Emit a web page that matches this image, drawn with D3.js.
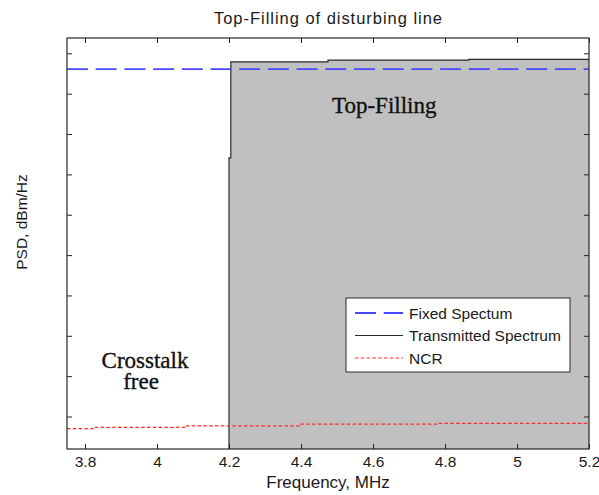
<!DOCTYPE html>
<html>
<head>
<meta charset="utf-8">
<script src="https://cdn.jsdelivr.net/npm/d3@7/dist/d3.min.js"></script>
<style>
  html, body { margin: 0; padding: 0; background: #fff; }
  svg { display: block; }
  .sans { font-family: "Liberation Sans", Arial, sans-serif; fill: #1a1a1a; }
  .serif { font-family: "Liberation Serif", "Times New Roman", serif; fill: #111; stroke: #111; stroke-width: 0.35px; }
</style>
</head>
<body>
<svg id="chart" width="599" height="495"></svg>
<script>
// Frequency axis (MHz)
const freqDomain = [3.75, 5.2];
const freqTicks = [3.8, 4.0, 4.2, 4.4, 4.6, 4.8, 5.0, 5.2];
const freqTickLabels = ["3.8", "4", "4.2", "4.4", "4.6", "4.8", "5", "5.2"];

// PSD axis (dBm/Hz) — ticks are drawn without labels
const psdDomain = [-148.05, -46.2];
const psdTicks = [-140, -130, -120, -110, -100, -90, -80, -70, -60, -50];

// Fixed spectrum mask (flat)
const fixedFreq = [3.75, 5.2];
const fixedPsd = [-53.9, -53.9];

// Transmitted spectrum (step-after segments, starts at 4.2 MHz)
const txFreq = [4.2, 4.205, 4.475, 4.866, 5.2];
const txPsd = [-75.9, -52.1, -51.7, -51.5, -51.5];

// NCR noise floor (step-after segments)
const ncrFreq = [3.75, 3.822, 4.08, 4.397, 4.78, 5.2];
const ncrPsd = [-143.0, -142.7, -142.3, -141.9, -141.7, -141.7];

const legendLabels = ["Fixed Spectum", "Transmitted Spectrum", "NCR"];

const svg = d3.select("#chart");
const plot = { left: 67, right: 589, top: 38, bottom: 449 };

const x = d3.scaleLinear().domain(freqDomain).range([plot.left, plot.right]);
const y = d3.scaleLinear().domain(psdDomain).range([plot.bottom, plot.top]);

svg.append("defs").append("clipPath").attr("id", "plotClip")
  .append("rect")
  .attr("x", plot.left).attr("y", plot.top)
  .attr("width", plot.right - plot.left).attr("height", plot.bottom - plot.top);

const g = svg.append("g").attr("clip-path", "url(#plotClip)");

const zip = (xs, ys) => xs.map((f, i) => ({ f, v: ys[i] }));
const txData = zip(txFreq, txPsd);

// Grey "top-filling" region under the transmitted spectrum
g.append("path")
  .datum(txData)
  .attr("fill", "#c0c0c0")
  .attr("d", d3.area().curve(d3.curveStepAfter)
    .x(d => x(d.f)).y0(y(psdDomain[0])).y1(d => y(d.v)));

// Transmitted spectrum outline, rising from the bottom of the axis
const txLine = [{ f: txFreq[0], v: psdDomain[0] }].concat(txData);
g.append("path")
  .datum(txLine)
  .attr("fill", "none")
  .attr("stroke", "#2a2a2a")
  .attr("stroke-width", 1.2)
  .attr("d", d3.line().curve(d3.curveStepAfter).x(d => x(d.f)).y(d => y(d.v)));

// Fixed spectrum (dashed blue)
g.append("path")
  .datum(zip(fixedFreq, fixedPsd))
  .attr("fill", "none")
  .attr("stroke", "#4848ff")
  .attr("stroke-width", 1.8)
  .attr("stroke-dasharray", "21,7.7")
  .attr("d", d3.line().x(d => x(d.f)).y(d => y(d.v)));

// NCR (dotted red)
g.append("path")
  .datum(zip(ncrFreq, ncrPsd))
  .attr("fill", "none")
  .attr("stroke", "#ff2a2a")
  .attr("stroke-width", 1.2)
  .attr("stroke-dasharray", "3.5,2.3")
  .attr("d", d3.line().curve(d3.curveStepAfter).x(d => x(d.f)).y(d => y(d.v)));

// Axes with inward ticks on all four sides
const tickLen = 5;
const axisColor = "#262626";
const bottomAxis = svg.append("g").attr("transform", `translate(0,${plot.bottom})`)
  .call(d3.axisBottom(x).tickValues(freqTicks).tickSizeInner(-tickLen).tickSizeOuter(0)
    .tickFormat((d, i) => freqTickLabels[i]));
const topAxis = svg.append("g").attr("transform", `translate(0,${plot.top})`)
  .call(d3.axisTop(x).tickValues(freqTicks).tickSizeInner(-tickLen).tickSizeOuter(0).tickFormat(""));
const leftAxis = svg.append("g").attr("transform", `translate(${plot.left},0)`)
  .call(d3.axisLeft(y).tickValues(psdTicks).tickSizeInner(-tickLen).tickSizeOuter(0).tickFormat(""));
const rightAxis = svg.append("g").attr("transform", `translate(${plot.right},0)`)
  .call(d3.axisRight(y).tickValues(psdTicks).tickSizeInner(-tickLen).tickSizeOuter(0).tickFormat(""));

[bottomAxis, topAxis, leftAxis, rightAxis].forEach(a => {
  a.select(".domain").remove();
  a.selectAll(".tick line").attr("stroke", axisColor).attr("stroke-width", 1);
});
bottomAxis.selectAll(".tick text")
  .attr("class", "sans")
  .style("font-size", "15.5px")
  .attr("fill", "#1a1a1a")
  .attr("dy", null)
  .attr("y", 18);

svg.append("rect")
  .attr("x", plot.left).attr("y", plot.top)
  .attr("width", plot.right - plot.left).attr("height", plot.bottom - plot.top)
  .attr("fill", "none").attr("stroke", axisColor).attr("stroke-width", 1.2);

// Title and axis labels
svg.append("text").attr("class", "sans")
  .attr("x", 328).attr("y", 24).attr("text-anchor", "middle")
  .style("font-size", "16.5px")
  .attr("textLength", 228).attr("lengthAdjust", "spacing")
  .text("Top-Filling of disturbing line");

svg.append("text").attr("class", "sans")
  .attr("x", 328).attr("y", 488).attr("text-anchor", "middle")
  .style("font-size", "17px")
  .text("Frequency, MHz");

svg.append("text").attr("class", "sans")
  .attr("transform", "translate(27,222) rotate(-90)")
  .attr("text-anchor", "middle")
  .style("font-size", "15.5px")
  .text("PSD, dBm/Hz");

// Region annotations
svg.append("text").attr("class", "serif")
  .attr("x", 332).attr("y", 113)
  .style("font-size", "23px")
  .text("Top-Filling");

svg.append("text").attr("class", "serif")
  .attr("x", 145).attr("y", 368).attr("text-anchor", "middle")
  .style("font-size", "23px")
  .text("Crosstalk");
svg.append("text").attr("class", "serif")
  .attr("x", 141).attr("y", 389).attr("text-anchor", "middle")
  .style("font-size", "23px")
  .text("free");

// Legend
const legend = svg.append("g");
legend.append("rect")
  .attr("x", 346).attr("y", 298).attr("width", 224).attr("height", 74)
  .attr("fill", "#fff").attr("stroke", "#2a2a2a").attr("stroke-width", 1);

const legendStyles = [
  { stroke: "#4848ff", width: 1.8, dash: "21,7.7" },
  { stroke: "#2a2a2a", width: 1.2, dash: null },
  { stroke: "#ff2a2a", width: 1.2, dash: "3.5,2.3" }
];
legendLabels.forEach((label, i) => {
  const cy = 313 + i * 22.5;
  legend.append("line")
    .attr("x1", 355).attr("x2", 403).attr("y1", cy).attr("y2", cy)
    .attr("stroke", legendStyles[i].stroke)
    .attr("stroke-width", legendStyles[i].width)
    .attr("stroke-dasharray", legendStyles[i].dash);
  legend.append("text").attr("class", "sans")
    .attr("x", 409).attr("y", cy + 5.5)
    .style("font-size", "15.5px")
    .text(label);
});
</script>
</body>
</html>
